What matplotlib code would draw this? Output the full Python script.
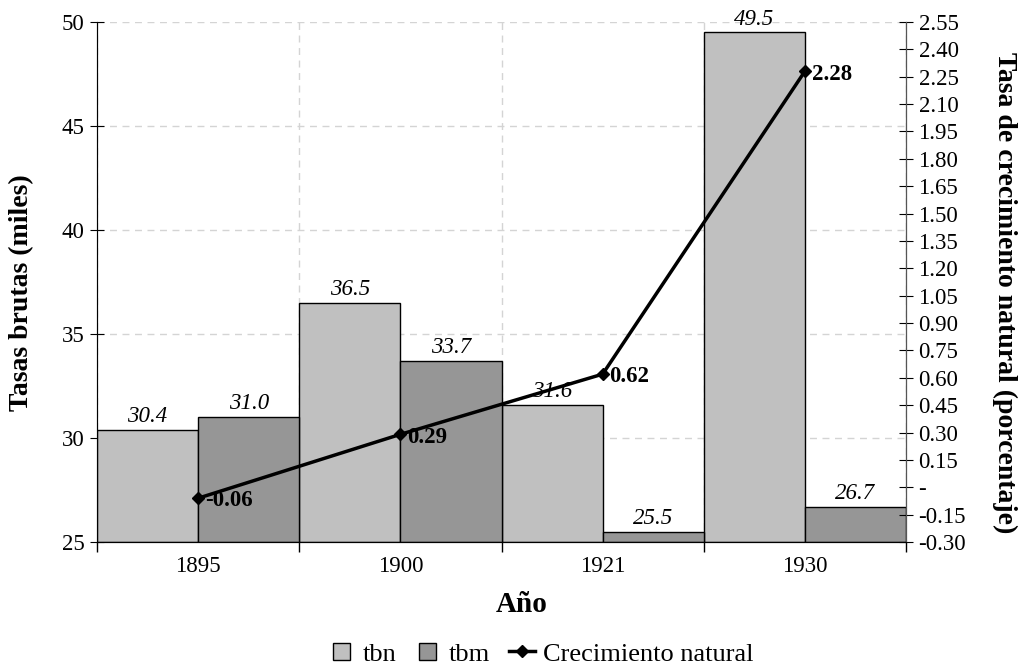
import matplotlib
matplotlib.use('Agg')
import matplotlib.pyplot as plt
from matplotlib.ticker import FuncFormatter
from matplotlib.patches import Rectangle
from matplotlib.container import BarContainer
from matplotlib.legend_handler import HandlerPatch, update_from_first_child

plt.rcParams['font.family'] = ['Liberation Serif', 'DejaVu Serif']

years = ['1895', '1900', '1921', '1930']
tbn = [30.4, 36.5, 31.6, 49.5]
tbm = [31.0, 33.7, 25.5, 26.7]
crec = [-0.06, 0.29, 0.62, 2.28]

fig = plt.figure(figsize=(10.26, 6.7), dpi=100)
ax = fig.add_axes([97/1026, 1-542/670, (906-97)/1026, 520/670])

x = list(range(len(years)))
w = 0.5
ax.bar([i - w/2 for i in x], [v - 25 for v in tbn], w, bottom=25, color='#c0c0c0',
       edgecolor='black', linewidth=1, label='tbn')
ax.bar([i + w/2 for i in x], [v - 25 for v in tbm], w, bottom=25, color='#969696',
       edgecolor='black', linewidth=1, label='tbm')
for i in x:
    ax.annotate('%.1f' % tbn[i], (i - w/2, tbn[i]), xytext=(0, 2), textcoords='offset points',
                ha='center', va='bottom', fontsize=16.5, style='italic')
    ax.annotate('%.1f' % tbm[i], (i + w/2, tbm[i]), xytext=(0, 2), textcoords='offset points',
                ha='center', va='bottom', fontsize=16.5, style='italic')

ax.set_xlim(-0.5, 3.5)
ax.set_ylim(25, 50)
ax.set_yticks([25, 30, 35, 40, 45, 50])
ax.set_xticks([-0.5, 0.5, 1.5, 2.5, 3.5])
ax.set_xticklabels([])
ax.set_xticks(x, minor=True)
ax.set_xticklabels(years, minor=True)
ax.tick_params(axis='x', which='minor', length=0, labelsize=16.5, pad=10)
ax.tick_params(axis='x', which='major', length=7, width=1)
ax.tick_params(axis='y', direction='inout', length=10, labelsize=16.5, pad=4)
ax.grid(True, axis='y', linestyle=(0, (5, 4)), color='#d4d4d4', linewidth=1)
ax.grid(True, axis='x', which='major', linestyle=(0, (5, 4)), color='#d4d4d4', linewidth=1)
ax.set_axisbelow(True)
ax.spines['top'].set_visible(False)
ax.spines['left'].set_color('#555555')
ax.set_xlabel('Año', fontsize=21, fontweight='bold', va='center')
ax.xaxis.set_label_coords(0.525, -0.121)
ax.set_ylabel('Tasas brutas (miles)', fontsize=20, fontweight='bold', va='center')
ax.yaxis.set_label_coords(-0.093, 0.48)

ax2 = ax.twinx()
ax2.plot(x, crec, color='black', linewidth=2.5, marker='D', markersize=6,
         label='Crecimiento natural')
for i in x:
    ax2.annotate('%.2f' % crec[i], (i, crec[i]), xytext=(5, -2), textcoords='offset points',
                 ha='left', va='center', fontsize=16.5, fontweight='bold')
ax2.set_ylim(-0.30, 2.55)
ax2.set_yticks([round(-0.30 + 0.15*k, 2) for k in range(20)])
ax2.yaxis.set_major_formatter(FuncFormatter(lambda v, p: '-' if abs(v) < 1e-9 else '%.2f' % v))
ax2.tick_params(axis='y', direction='inout', length=10, labelsize=16.5, pad=4)
ax2.spines['top'].set_visible(False)
ax2.spines['right'].set_color('#555555')
ax2.set_ylabel('Tasa de crecimiento natural (porcentaje)', fontsize=20, fontweight='bold',
               rotation=270, va='center')
ax2.yaxis.set_label_coords(1.1224, 0.48)


def square(legend, orig_handle, xdescent, ydescent, width, height, fontsize):
    s = height * 0.9
    return Rectangle((-xdescent + (width - s) / 2, -ydescent + (height - s) / 2), s, s)


h1, l1 = ax.get_legend_handles_labels()
h2, l2 = ax2.get_legend_handles_labels()
fig.legend(h1 + h2, l1 + l2, loc='center', bbox_to_anchor=(0.527, 0.024), ncol=3,
           frameon=False, fontsize=19, handlelength=1.0, handletextpad=0.3,
           columnspacing=0.7,
           handler_map={BarContainer: HandlerPatch(patch_func=square,
                                                   update_func=update_from_first_child)})

fig.savefig('out.png', dpi=100)
